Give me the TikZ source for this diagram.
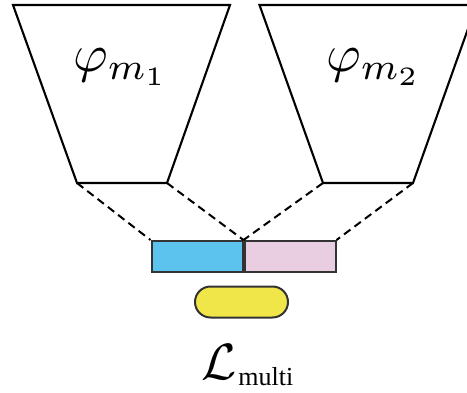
\documentclass[tikz,border=0pt]{standalone}
\usepackage{amsmath}
\usepackage{graphicx}
\usepackage{fontspec}
\newfontfamily\serifT{Liberation Serif}
\definecolor{featblue}{HTML}{5CC3EE}
\definecolor{featpink}{HTML}{E9CDE1}
\definecolor{lossyellow}{HTML}{F1E649}
\definecolor{boxedge}{HTML}{333333}
\tikzset{
  encoder/.style={draw=black, line width=2.1pt, line join=miter},
  feat/.style={draw=boxedge, line width=2pt, minimum width=91pt, minimum height=31pt, inner sep=0pt, anchor=north west},
  lossbox/.style={draw=boxedge, line width=2pt, fill=lossyellow, rounded corners=15.5pt, minimum width=93pt, minimum height=31pt, inner sep=0pt},
  link/.style={draw=black, line width=2pt, dash pattern=on 8pt off 5pt},
  lbl/.style={inner sep=0pt, font=\normalsize}
}
\begin{document}
\begin{tikzpicture}[x=1pt,y=1pt]
\useasboundingbox (0,0) rectangle (467,392);
\clip (0,0) rectangle (467,392);
% left encoder corners
\coordinate (l1) at (13,387);
\coordinate (l2) at (230,387);
\coordinate (l3) at (167,209);
\coordinate (l4) at (77,209);
% right encoder corners
\coordinate (r1) at (259.5,387);
\coordinate (r2) at (476.5,387);
\coordinate (r3) at (413,209);
\coordinate (r4) at (323,209);
\draw[encoder] (l1) -- (l2) -- (l3) -- (l4) -- cycle;
\draw[encoder] (r1) -- (r2) -- (r3) -- (r4) -- cycle;
\node[lbl, scale=5.3] (phi1) at (121,325) {$\varphi_{m_1}$};
\node[lbl, scale=5.3] (phi2) at (374,325) {$\varphi_{m_2}$};
% feature boxes
\node[feat, fill=featblue] (fb) at (150.5,152) {};
\node[feat, fill=featpink] (fp) at (243.5,152) {};
\node[lossbox] (loss) at (241.5,90) {};
\node[lbl, anchor=base west] (lm) at (201,12) {\scalebox{5.1}{$\mathcal{L}$}\hspace{2pt}\raisebox{-5pt}{\fontsize{26}{30}\selectfont\serifT multi}};
% dashed links
\draw[link] (l4) -- (fb.north west);
\draw[link] (l3) -- (fb.north east);
\draw[link] (r4) -- (fp.north west);
\draw[link] (r3) -- (fp.north east);
\end{tikzpicture}
\end{document}
